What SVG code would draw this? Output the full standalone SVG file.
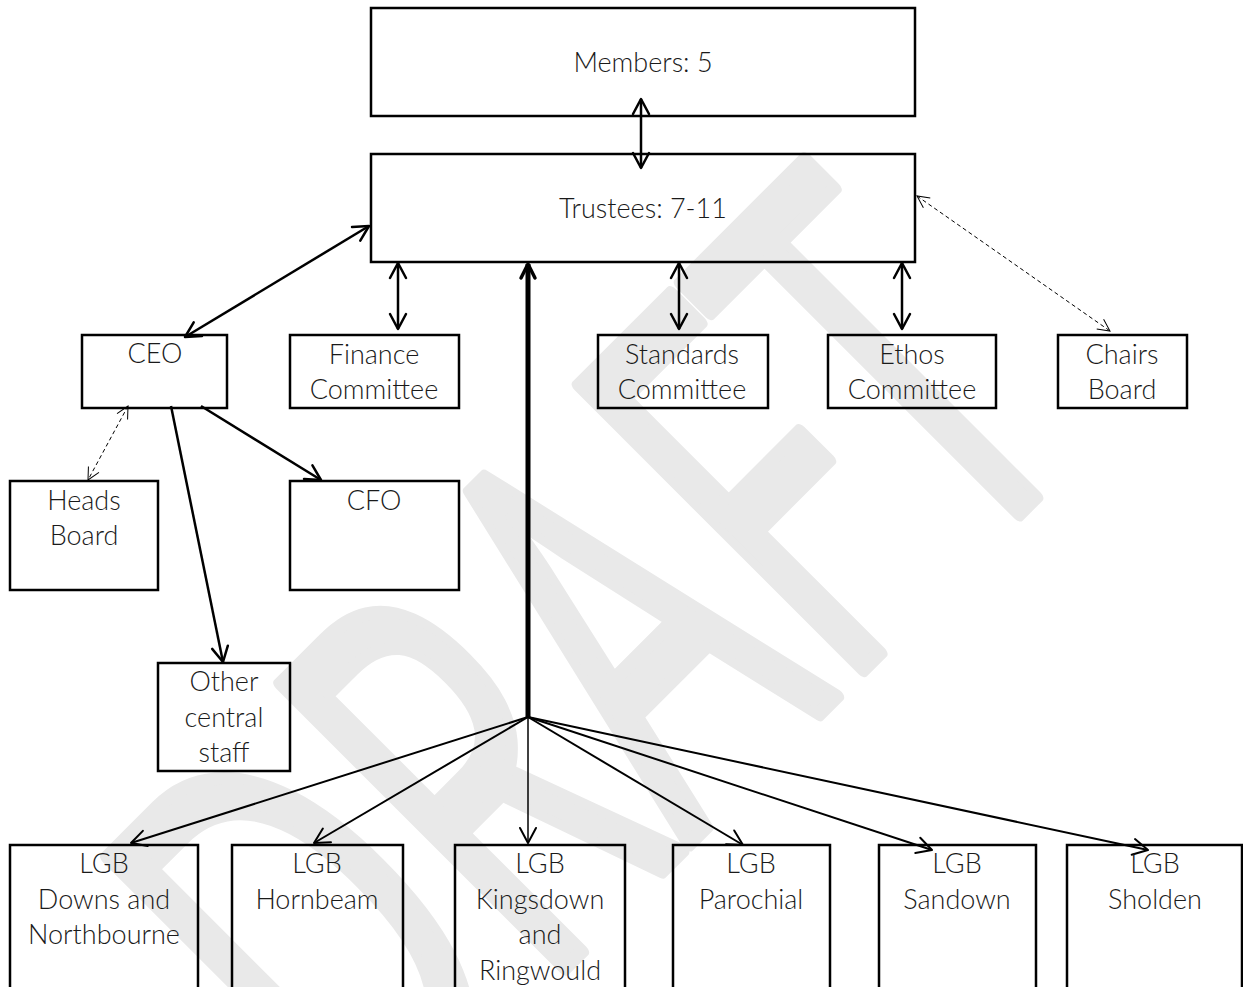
<svg xmlns="http://www.w3.org/2000/svg" width="1243" height="987" viewBox="0 0 1243 987">
<style>
.box{fill:none;stroke:#000;stroke-width:2.5}
.lbl{font-family:Lato,"Open Sans","Liberation Sans",sans-serif;font-weight:300;font-size:27px;fill:#1a1a1a;text-anchor:middle}
.c{fill:none;stroke:#000;stroke-width:2.5}
.f{fill:none;stroke:#000;stroke-width:2}
.d{fill:none;stroke:#000;stroke-width:1;stroke-dasharray:4 3}
.wm{font-family:"Open Sans","Liberation Sans",sans-serif;font-size:563px;fill:#e9e9e9;stroke:#e9e9e9;stroke-width:12;stroke-linejoin:round;text-anchor:middle}
</style>
<defs>
<marker id="ah" viewBox="-18 -10 20 20" refX="0" refY="0" markerWidth="20" markerHeight="20" markerUnits="userSpaceOnUse" orient="auto-start-reverse" overflow="visible">
<path d="M-15,-8 L0,0 L-15,8" fill="none" stroke="#000" stroke-width="2.5" stroke-linejoin="round" stroke-linecap="round"/>
</marker>
<marker id="ahf" viewBox="-18 -10 20 20" refX="0" refY="0" markerWidth="20" markerHeight="20" markerUnits="userSpaceOnUse" orient="auto-start-reverse" overflow="visible">
<path d="M-15,-8 L0,0 L-15,8" fill="none" stroke="#000" stroke-width="2" stroke-linejoin="round" stroke-linecap="round"/>
</marker>
<marker id="ahs" viewBox="-14 -8 16 16" refX="0" refY="0" markerWidth="16" markerHeight="16" markerUnits="userSpaceOnUse" orient="auto-start-reverse" overflow="visible">
<path d="M-12,-6 L0,0 L-12,6" fill="none" stroke="#000" stroke-width="1"/>
</marker>
<marker id="ahb" viewBox="-18 -10 20 20" refX="0" refY="0" markerWidth="20" markerHeight="20" markerUnits="userSpaceOnUse" orient="auto" overflow="visible">
<path d="M-14,-7 L0,0 L-14,7" fill="none" stroke="#000" stroke-width="3.5" stroke-linejoin="round" stroke-linecap="round"/>
</marker>
</defs>
<rect width="1243" height="987" fill="#fff"/>
<text class="wm" transform="translate(730,803) rotate(-45) scale(0.6,1)" vector-effect="non-scaling-stroke">DRAFT</text>

<g id="connectors">
<line class="c" x1="641" y1="99" x2="641" y2="168" marker-start="url(#ah)" marker-end="url(#ah)"/>
<line class="c" x1="185" y1="337" x2="369" y2="226" marker-start="url(#ah)" marker-end="url(#ah)"/>
<line class="c" x1="398" y1="263" x2="398" y2="329" marker-start="url(#ah)" marker-end="url(#ah)"/>
<line class="c" x1="679" y1="263" x2="679" y2="329" marker-start="url(#ah)" marker-end="url(#ah)"/>
<line class="c" x1="902" y1="263" x2="902" y2="329" marker-start="url(#ah)" marker-end="url(#ah)"/>
<line class="d" x1="917" y1="196" x2="1110" y2="331" marker-start="url(#ahs)" marker-end="url(#ahs)"/>
<line class="d" x1="128" y1="406" x2="88" y2="480" marker-start="url(#ahs)" marker-end="url(#ahs)"/>
<line class="c" x1="201" y1="406" x2="321" y2="480" marker-end="url(#ah)"/>
<line class="c" x1="171" y1="406" x2="223" y2="662" marker-end="url(#ah)"/>
<line x1="528" y1="717" x2="528" y2="264" stroke="#000" stroke-width="5" marker-end="url(#ahb)"/>
<line class="f" x1="528" y1="717" x2="131" y2="843" marker-end="url(#ahf)"/>
<line class="f" x1="528" y1="717" x2="314" y2="843" marker-end="url(#ahf)"/>
<line x1="528" y1="717" x2="528" y2="843" stroke="#000" stroke-width="1.5" marker-end="url(#ahf)"/>
<line class="f" x1="528" y1="717" x2="743" y2="845" marker-end="url(#ahf)"/>
<line class="f" x1="528" y1="717" x2="932" y2="850" marker-end="url(#ahf)"/>
<line class="f" x1="528" y1="717" x2="1148" y2="850" marker-end="url(#ahf)"/>
</g>

<g id="members"><rect class="box" x="371" y="8" width="544" height="108"/><text class="lbl" x="643" y="72">Members: 5</text></g>
<g id="trustees"><rect class="box" x="371" y="154" width="544" height="108"/><text class="lbl" x="643" y="218">Trustees: 7-11</text></g>
<g id="ceo"><rect class="box" x="82" y="335" width="145" height="73"/><text class="lbl" x="155" y="363">CEO</text></g>
<g id="finance"><rect class="box" x="290" y="335" width="169" height="73"/><text class="lbl" x="374" y="364">Finance</text><text class="lbl" x="374" y="399">Committee</text></g>
<g id="standards"><rect class="box" x="598" y="335" width="170" height="73"/><text class="lbl" x="682" y="364">Standards</text><text class="lbl" x="682" y="399">Committee</text></g>
<g id="ethos"><rect class="box" x="828" y="335" width="168" height="73"/><text class="lbl" x="912" y="364">Ethos</text><text class="lbl" x="912" y="399">Committee</text></g>
<g id="chairs"><rect class="box" x="1058" y="335" width="129" height="73"/><text class="lbl" x="1122" y="364">Chairs</text><text class="lbl" x="1122" y="399">Board</text></g>
<g id="heads"><rect class="box" x="10" y="481" width="148" height="109"/><text class="lbl" x="84" y="510">Heads</text><text class="lbl" x="84" y="545">Board</text></g>
<g id="cfo"><rect class="box" x="290" y="481" width="169" height="109"/><text class="lbl" x="374" y="510">CFO</text></g>
<g id="other"><rect class="box" x="158" y="663" width="132" height="108"/><text class="lbl" x="224" y="691">Other</text><text class="lbl" x="224" y="727">central</text><text class="lbl" x="224" y="762">staff</text></g>
<g id="lgb-downs"><rect class="box" x="10" y="845" width="188" height="160"/><text class="lbl" x="104" y="873">LGB</text><text class="lbl" x="104" y="909">Downs and</text><text class="lbl" x="104" y="944">Northbourne</text></g>
<g id="lgb-hornbeam"><rect class="box" x="232" y="845" width="171" height="160"/><text class="lbl" x="317" y="873">LGB</text><text class="lbl" x="317" y="909">Hornbeam</text></g>
<g id="lgb-kingsdown"><rect class="box" x="455" y="845" width="170" height="160"/><text class="lbl" x="540" y="873">LGB</text><text class="lbl" x="540" y="909">Kingsdown</text><text class="lbl" x="540" y="944">and</text><text class="lbl" x="540" y="980">Ringwould</text></g>
<g id="lgb-parochial"><rect class="box" x="673" y="845" width="157" height="160"/><text class="lbl" x="751" y="873">LGB</text><text class="lbl" x="751" y="909">Parochial</text></g>
<g id="lgb-sandown"><rect class="box" x="879" y="845" width="157" height="160"/><text class="lbl" x="957" y="873">LGB</text><text class="lbl" x="957" y="909">Sandown</text></g>
<g id="lgb-sholden"><rect class="box" x="1067" y="845" width="175" height="160"/><text class="lbl" x="1155" y="873">LGB</text><text class="lbl" x="1155" y="909">Sholden</text></g>
</svg>
